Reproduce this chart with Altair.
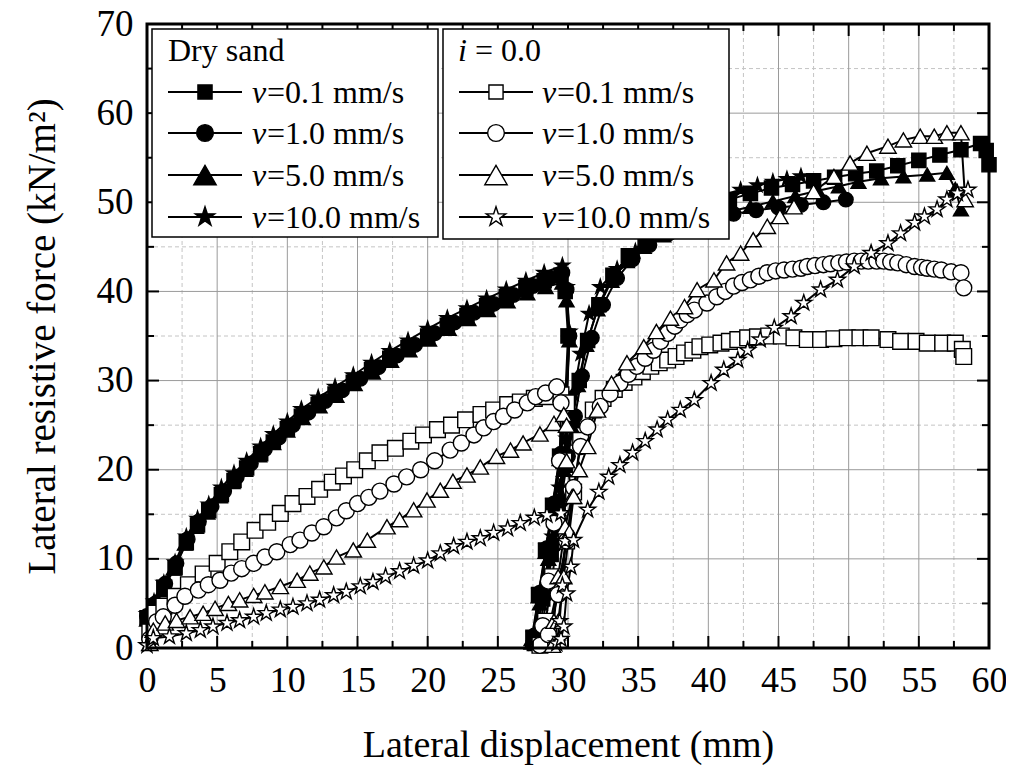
import altair as alt
import pandas as pd

# ---------------- data ----------------
# Dry sand, v = 0.1 mm/s (filled squares)
d01_load_x = [0, 0.5, 1.2, 2.0, 2.8, 3.6, 4.4, 5.3, 6.2, 7.1, 8.1, 9.0, 10.0, 11.0, 12.2, 13.4, 14.7, 16.0, 17.3, 18.6, 20.0, 21.4, 22.8, 24.2, 25.6, 27.0, 28.3, 29.5]
d01_load_y = [3.4, 4.7, 6.8, 9.0, 11.8, 13.8, 15.4, 17.2, 18.8, 20.2, 21.8, 23.1, 24.6, 26.0, 27.3, 28.5, 29.8, 31.2, 32.5, 33.7, 35.0, 36.2, 37.3, 38.4, 39.4, 40.4, 41.2, 41.8]
d01_unl_x = [29.8, 30.0, 29.8, 29.4, 28.9, 28.4, 27.9, 27.5]
d01_unl_y = [40.0, 35.0, 28.0, 21.5, 16.0, 11.0, 6.0, 1.2]
d01_rel_x = [27.6, 28.2, 28.8, 29.3, 29.8, 30.3, 30.8, 31.4, 32.2, 33.2, 34.3, 35.5, 37.0, 38.5, 40.0, 41.5, 43.0, 44.5, 46.0, 47.5, 49.0, 50.5, 52.0, 53.5, 55.0, 56.5, 58.0, 59.4, 59.8, 60.0]
d01_rel_y = [0.5, 5.5, 10.5, 15.5, 20.5, 25.5, 30.0, 34.5, 38.5, 41.8, 44.0, 45.8, 47.3, 48.4, 49.4, 50.3, 51.0, 51.6, 52.0, 52.4, 52.8, 53.2, 53.5, 54.1, 54.7, 55.3, 55.9, 56.6, 55.8, 54.2]

# Dry sand, v = 1.0 mm/s (filled circles)
d10_load_x = [0, 0.6, 1.3, 2.1, 2.9, 3.7, 4.6, 5.5, 6.4, 7.4, 8.4, 9.4, 10.4, 11.5, 12.7, 13.9, 15.2, 16.5, 17.8, 19.1, 20.5, 21.9, 23.3, 24.7, 26.1, 27.5, 28.7, 29.6]
d10_load_y = [3.6, 5.0, 7.2, 9.5, 12.2, 14.2, 15.9, 17.6, 19.2, 20.7, 22.3, 23.6, 25.0, 26.4, 27.7, 28.9, 30.2, 31.5, 32.8, 34.0, 35.3, 36.5, 37.6, 38.6, 39.6, 40.6, 41.5, 42.1]
d10_unl_x = [29.9, 30.1, 29.9, 29.5, 29.0, 28.5, 28.0, 27.6]
d10_unl_y = [40.2, 35.0, 28.0, 21.8, 16.2, 11.2, 6.2, 1.4]
d10_rel_x = [27.8, 28.4, 29.0, 29.5, 30.0, 30.5, 31.0, 31.7, 32.5, 33.5, 34.6, 35.8, 37.2, 38.7, 40.2, 41.8, 43.4, 45.0, 46.6, 48.2, 49.8]
d10_rel_y = [0.8, 6.0, 11.5, 16.5, 21.5, 26.0, 30.5, 34.8, 38.5, 41.5, 43.6, 45.2, 46.5, 47.4, 48.1, 48.7, 49.1, 49.4, 49.7, 50.0, 50.3]

# Dry sand, v = 5.0 mm/s (filled triangles)
d50_load_x = [0, 0.5, 1.1, 1.9, 2.7, 3.5, 4.3, 5.2, 6.1, 7.0, 8.0, 9.0, 10.0, 11.1, 12.3, 13.5, 14.8, 16.1, 17.4, 18.7, 20.1, 21.5, 22.9, 24.3, 25.7, 27.1, 28.4, 29.6]
d50_load_y = [3.2, 4.5, 6.5, 8.9, 11.7, 13.6, 15.2, 17.0, 18.6, 20.0, 21.6, 23.0, 24.4, 25.8, 27.1, 28.3, 29.6, 30.9, 32.2, 33.4, 34.6, 35.8, 36.9, 37.9, 38.9, 39.8, 40.5, 41.0]
d50_unl_x = [29.9, 30.1, 29.9, 29.4, 28.9, 28.4, 27.9, 27.4]
d50_unl_y = [39.0, 34.5, 27.5, 21.2, 15.8, 10.8, 5.8, 1.0]
d50_rel_x = [27.4, 28.0, 28.6, 29.2, 29.7, 30.2, 30.7, 31.3, 32.1, 33.1, 34.2, 35.4, 36.8, 38.3, 39.8, 41.4, 43.0, 44.6, 46.2, 47.8, 49.3, 50.7, 52.3, 53.9, 55.6, 57.0, 57.6, 58.0]
d50_rel_y = [0.6, 5.0, 10.0, 15.0, 20.0, 25.0, 29.5, 34.0, 38.0, 41.2, 43.4, 45.0, 46.3, 47.3, 48.2, 48.9, 49.5, 50.1, 50.7, 51.3, 51.8, 52.3, 52.7, 52.9, 53.1, 53.3, 51.5, 49.2]

# Dry sand, v = 10.0 mm/s (filled stars)
d100_load_x = [0, 0.5, 1.2, 2.0, 2.8, 3.6, 4.4, 5.3, 6.2, 7.1, 8.1, 9.0, 10.0, 11.0, 12.2, 13.4, 14.7, 16.0, 17.3, 18.6, 20.0, 21.4, 22.8, 24.2, 25.6, 27.0, 28.3, 29.6]
d100_load_y = [3.8, 5.2, 7.3, 9.6, 12.5, 14.5, 16.1, 18.0, 19.6, 21.0, 22.6, 24.0, 25.4, 26.8, 28.1, 29.3, 30.6, 32.0, 33.3, 34.5, 35.8, 37.0, 38.1, 39.2, 40.2, 41.2, 42.1, 42.9]
d100_unl_x = [29.9, 30.1, 29.9, 29.5, 29.0, 28.5, 28.0, 27.6]
d100_unl_y = [40.5, 35.5, 28.5, 22.0, 16.4, 11.4, 6.4, 1.5]
d100_rel_x = [27.6, 28.3, 28.9, 29.4, 29.9, 30.4, 30.9, 31.5, 32.3, 33.5, 34.8, 36.2, 37.8, 39.4, 41.0, 42.3, 43.5, 44.6, 45.6, 46.6]
d100_rel_y = [0.5, 6.5, 12.5, 18.0, 23.5, 28.5, 33.0, 37.5, 40.5, 42.5, 44.5, 46.5, 48.3, 49.7, 50.8, 51.4, 51.9, 52.3, 52.6, 52.9]

# i = 0.0, v = 0.1 mm/s (open squares)
o01_load_x = [0.2, 0.6, 1.2, 2.0, 2.95, 4.0, 5.0, 5.9, 6.75, 7.7, 8.6, 9.5, 10.4, 11.4, 12.3, 13.2, 14.0, 14.8, 15.7, 16.6, 17.7, 18.8, 19.7, 20.7, 21.7, 22.7, 23.8, 24.7, 25.7, 26.6, 27.6, 28.5, 29.5]
o01_load_y = [1.8, 3.9, 4.7, 5.8, 7.1, 8.3, 9.5, 10.8, 11.9, 13.2, 14.1, 15.1, 16.2, 17.0, 17.8, 18.6, 19.3, 20.0, 21.0, 21.9, 22.4, 23.2, 23.9, 24.5, 25.0, 25.6, 26.2, 26.7, 27.3, 27.6, 28.0, 28.2, 28.4]
o01_unl_x = [29.9, 29.7, 29.3, 28.9, 28.4, 28.0]
o01_unl_y = [27.5, 21.0, 14.0, 8.0, 3.0, 0.3]
o01_rel_x = [28.6, 29.3, 29.9, 30.4, 30.9, 31.8, 32.5, 33.3, 34.0, 34.7, 35.3, 35.9, 36.5, 37.1, 37.7, 38.3, 38.9, 39.4, 40.1, 40.9, 41.5, 42.1, 42.8, 43.5, 44.3, 45.2, 46.1, 47.05, 48.0, 48.95, 49.9, 50.8, 51.6, 52.8, 53.7, 54.8, 55.6, 56.7, 57.6, 58.1, 58.2]
o01_rel_y = [2.0, 7.0, 12.0, 17.5, 23.3, 26.7, 28.0, 29.0, 29.8, 30.4, 31.0, 31.6, 32.0, 32.3, 32.7, 33.1, 33.4, 33.8, 34.0, 34.2, 34.4, 34.6, 34.8, 34.9, 35.0, 35.0, 34.8, 34.6, 34.6, 34.7, 34.8, 34.8, 34.8, 34.6, 34.4, 34.4, 34.2, 34.2, 34.2, 33.5, 32.7]

# i = 0.0, v = 1.0 mm/s (open circles)
o10_load_x = [0.2, 0.69, 1.16, 2.0, 2.7, 3.66, 4.37, 5.2, 6.0, 6.75, 7.6, 8.4, 9.25, 10.2, 10.9, 11.75, 12.6, 13.5, 14.2, 15.0, 15.8, 16.6, 17.6, 18.5, 19.5, 20.5, 21.6, 22.4, 23.3, 24.0, 24.7, 25.4, 26.2, 27.1, 27.7, 28.4, 29.2]
o10_load_y = [1.0, 2.95, 3.5, 4.8, 5.8, 6.5, 7.1, 7.6, 8.4, 8.9, 9.5, 10.2, 10.8, 11.6, 12.1, 12.9, 13.6, 14.6, 15.4, 16.2, 16.9, 17.6, 18.4, 19.2, 20.0, 21.0, 22.2, 23.0, 23.9, 24.7, 25.4, 26.0, 26.7, 27.5, 28.2, 28.6, 29.3]
o10_unl_x = [29.5, 29.4, 29.0, 28.6, 28.2, 28.0]
o10_unl_y = [27.5, 21.0, 14.0, 7.5, 2.5, 0.3]
o10_rel_x = [28.6, 29.3, 29.9, 30.4, 30.9, 31.4, 32.3, 33.0, 33.7, 34.3, 34.9, 35.5, 36.1, 36.6, 37.1, 37.6, 38.0, 38.5, 39.0, 39.9, 40.6, 41.2, 41.8, 42.4, 43.0, 43.6, 44.2, 44.8, 45.4, 46.0, 46.6, 47.05, 47.6, 48.2, 48.7, 49.3, 49.85, 50.4, 50.9, 51.4, 52.0, 52.5, 53.0, 53.5, 54.1, 54.7, 55.2, 55.6, 56.1, 56.6, 57.3, 58.0, 58.2]
o10_rel_y = [1.5, 6.0, 12.0, 18.0, 22.6, 24.8, 27.1, 28.5, 29.7, 30.7, 31.6, 32.5, 33.4, 34.4, 35.3, 36.1, 36.8, 37.4, 37.9, 38.7, 39.4, 40.0, 40.6, 41.0, 41.3, 41.7, 42.1, 42.3, 42.4, 42.5, 42.6, 42.8, 42.9, 43.0, 43.1, 43.2, 43.3, 43.4, 43.4, 43.4, 43.4, 43.4, 43.3, 43.2, 43.0, 42.8, 42.7, 42.6, 42.5, 42.4, 42.2, 42.1, 40.4]

# i = 0.0, v = 5.0 mm/s (open triangles)
o50_load_x = [0.2, 0.45, 1.3, 2.1, 3.07, 4.0, 4.85, 5.8, 6.6, 7.6, 8.4, 9.5, 10.7, 11.6, 12.6, 13.5, 14.7, 15.7, 17.1, 18.0, 19.0, 19.95, 20.9, 21.8, 22.8, 23.75, 24.9, 25.9, 26.8, 28.0, 29.0, 29.7]
o50_load_y = [0.5, 2.0, 2.8, 3.1, 3.5, 3.9, 4.45, 5.0, 5.4, 5.9, 6.3, 6.9, 7.6, 8.4, 9.1, 10.2, 11.0, 12.1, 13.6, 14.4, 15.5, 16.6, 17.7, 18.7, 19.4, 20.3, 21.5, 22.2, 23.0, 24.0, 25.2, 26.2]
o50_unl_x = [29.9, 29.9, 30.3, 29.8, 29.3, 29.0, 28.9]
o50_unl_y = [25.0, 21.0, 17.0, 13.6, 8.0, 3.0, 0.3]
o50_rel_x = [29.3, 29.7, 30.1, 30.4, 30.8, 31.4, 32.1, 33.1, 34.2, 35.4, 36.3, 37.3, 38.3, 39.2, 40.4, 41.3, 42.3, 43.2, 44.2, 45.1, 46.1, 47.5, 48.95, 50.1, 51.3, 52.8, 53.9, 55.1, 56.1, 57.0, 58.0, 58.3]
o50_rel_y = [3.0, 8.0, 13.0, 17.0, 20.0, 22.6, 26.7, 29.7, 32.0, 33.8, 35.5, 37.0, 38.3, 40.2, 41.3, 43.2, 44.3, 45.8, 47.3, 48.4, 49.5, 51.2, 52.9, 54.4, 55.5, 56.3, 57.0, 57.4, 57.4, 57.8, 57.8, 50.3]

# i = 0.0, v = 10.0 mm/s (open stars)
o100_load_x = [0, 0.45, 1.6, 2.8, 3.8, 4.7, 5.7, 6.6, 7.6, 8.5, 9.5, 10.4, 11.4, 12.3, 13.3, 14.2, 15.2, 16.1, 17.0, 18.0, 19.0, 20.0, 20.9, 21.85, 22.8, 23.75, 24.7, 25.7, 26.6, 27.6, 28.5, 29.5]
o100_load_y = [0.3, 1.1, 1.3, 1.65, 2.0, 2.4, 2.8, 3.1, 3.5, 3.9, 4.3, 4.6, 5.0, 5.4, 5.9, 6.3, 6.9, 7.4, 8.0, 8.6, 9.2, 9.8, 10.6, 11.4, 11.9, 12.3, 12.9, 13.4, 14.0, 14.6, 14.9, 15.1]
o100_unl_x = [29.8, 29.6, 29.4, 29.2]
o100_unl_y = [12.0, 7.0, 3.0, 0.5]
o100_rel_x = [29.5, 29.7, 29.9, 30.2, 30.4, 31.4, 32.2, 32.9, 33.7, 34.6, 35.5, 36.35, 37.1, 38.0, 39.0, 40.2, 41.1, 42.1, 42.8, 43.7, 44.7, 45.9, 46.8, 48.0, 49.2, 50.4, 51.6, 52.8, 53.7, 54.7, 55.4, 56.3, 57.0, 57.75, 58.5]
o100_rel_y = [1.0, 2.4, 6.1, 9.1, 12.1, 15.5, 17.5, 19.2, 20.5, 21.9, 23.2, 24.5, 25.6, 26.7, 27.8, 29.7, 31.2, 32.3, 33.4, 34.6, 35.9, 37.2, 38.7, 40.2, 41.3, 42.8, 44.3, 45.4, 46.5, 47.7, 48.4, 49.2, 50.3, 51.0, 51.4]

dry_keys = ["d01", "d10", "d50", "d100"]
open_keys = ["o01", "o10", "o50", "o100"]
speed_labels = ["=0.1 mm/s", "=1.0 mm/s", "=5.0 mm/s", "=10.0 mm/s"]
group_titles = ["Dry sand", "i = 0.0"]

x_major = [0, 5, 10, 15, 20, 25, 30, 35, 40, 45, 50, 55, 60]
x_minor = [2.5, 7.5, 12.5, 17.5, 22.5, 27.5, 32.5, 37.5, 42.5, 47.5, 52.5, 57.5]
y_major = [0, 10, 20, 30, 40, 50, 60, 70]
y_minor = [5, 15, 25, 35, 45, 55, 65]

g = globals()
rows = []
for key in dry_keys + open_keys:
    xs = g[key + "_load_x"] + g[key + "_unl_x"] + g[key + "_rel_x"]
    ys = g[key + "_load_y"] + g[key + "_unl_y"] + g[key + "_rel_y"]
    for i, (a, b) in enumerate(zip(xs, ys)):
        rows.append({"series": key, "grp": key[0], "idx": i, "x": a, "y": b})
df = pd.DataFrame(rows)

# ---------------- styling ----------------
W, H = 842, 624
FONT = "Liberation Serif"
STAR = ("M0,-1L0.2245,-0.309L0.9511,-0.309L0.3633,0.118L0.5878,0.809L0,0.382"
        "L-0.5878,0.809L-0.3633,0.118L-0.9511,-0.309L-0.2245,-0.309Z")
all_keys = dry_keys + open_keys
shapes = ["square", "circle", "triangle-up", STAR] * 2
fills = ["black"] * 4 + ["white"] * 4
sizes = [200, 280, 500, 420] * 2

xs_scale = alt.Scale(domain=[0, 60], nice=False, zero=False)
ys_scale = alt.Scale(domain=[0, 70], nice=False, zero=False)

AX = alt.Axis(
    values=x_major, ticks=False, domain=False, grid=False, labelFlush=False,
    labelFont=FONT, labelFontSize=36, labelColor="black", labelPadding=15,
    title="Lateral displacement (mm)", titleFont=FONT, titleFontSize=38,
    titleFontWeight="normal", titleColor="black", titlePadding=28)
AY = alt.Axis(
    values=y_major, ticks=False, domain=False, grid=False, labelFlush=False,
    labelFont=FONT, labelFontSize=37, labelColor="black", labelPadding=14,
    title="Lateral resistive force (kN/m²)", titleFont=FONT, titleFontSize=39,
    titleFontWeight="normal", titleColor="black", titlePadding=34)

def XE(field):
    return alt.X(field, scale=xs_scale, axis=AX)

def YE(field):
    return alt.Y(field, scale=ys_scale, axis=AY)

def vals(lst):
    return pd.DataFrame({"v": lst})

layers = []
# grid
layers.append(alt.Chart(vals(x_minor)).mark_rule(color="#c4c4c4", strokeWidth=1, strokeDash=[4, 3]).encode(
    x=XE("v:Q"), y=alt.value(0), y2=alt.value(H)))
layers.append(alt.Chart(vals(y_minor)).mark_rule(color="#c4c4c4", strokeWidth=1, strokeDash=[4, 3]).encode(
    y=YE("v:Q"), x=alt.value(0), x2=alt.value(W)))
layers.append(alt.Chart(vals(x_major[1:-1])).mark_rule(color="#9a9a9a", strokeWidth=1).encode(
    x=XE("v:Q"), y=alt.value(0), y2=alt.value(H)))
layers.append(alt.Chart(vals(y_major[1:-1])).mark_rule(color="#9a9a9a", strokeWidth=1).encode(
    y=YE("v:Q"), x=alt.value(0), x2=alt.value(W)))

shape_enc = alt.Shape("series:N", scale=alt.Scale(domain=all_keys, range=shapes), legend=None)
fill_enc = alt.Fill("series:N", scale=alt.Scale(domain=all_keys, range=fills), legend=None)
size_enc = alt.Size("series:O", scale=alt.Scale(domain=all_keys, range=sizes), legend=None)

for grp in ["d", "o"]:
    base = alt.Chart(df).transform_filter(alt.datum.grp == grp)
    layers.append(base.mark_line(color="black", strokeWidth=2).encode(
        x=XE("x:Q"), y=YE("y:Q"), detail="series:N", order="idx:Q"))
    layers.append(base.mark_point(filled=True, stroke="black", strokeWidth=1.4, opacity=1).encode(
        x=XE("x:Q"), y=YE("y:Q"), shape=shape_enc, fill=fill_enc, size=size_enc))

# inward ticks on all four sides
for lst, L in [(x_major, 12), (x_minor, 7)]:
    for y0, y1 in [(H, H - L), (0, L)]:
        layers.append(alt.Chart(vals(lst)).mark_rule(color="black", strokeWidth=2).encode(
            x=XE("v:Q"), y=alt.value(y0), y2=alt.value(y1)))
for lst, L in [(y_major, 12), (y_minor, 7)]:
    for x0, x1 in [(0, L), (W, W - L)]:
        layers.append(alt.Chart(vals(lst)).mark_rule(color="black", strokeWidth=2).encode(
            y=YE("v:Q"), x=alt.value(x0), x2=alt.value(x1)))

one = pd.DataFrame({"k": [0]})
# frame
layers.append(alt.Chart(one).mark_rect(fill=None, filled=False, stroke="black", strokeWidth=3).encode(
    x=alt.value(0), x2=alt.value(W), y=alt.value(0), y2=alt.value(H)))

# legend (two boxes)
row_y = [68, 109, 151, 193]
boxes = [
    {"x0": 5, "x1": 291, "y1": 213, "keys": dry_keys, "lx0": 21, "lx1": 95, "mx": 58, "tx": 105},
    {"x0": 296, "x1": 582, "y1": 215, "keys": open_keys, "lx0": 312, "lx1": 386, "mx": 349, "tx": 395},
]
for b_i, b in enumerate(boxes):
    layers.append(alt.Chart(one).mark_rect(fill="white", stroke="black", strokeWidth=1.5).encode(
        x=alt.value(b["x0"]), x2=alt.value(b["x1"]), y=alt.value(5), y2=alt.value(b["y1"])))
    if b_i == 0:
        layers.append(alt.Chart(one).mark_text(text=group_titles[0], font=FONT, fontSize=32, align="left",
                                               baseline="alphabetic", color="black").encode(
            x=alt.value(b["lx0"]), y=alt.value(37)))
    else:
        layers.append(alt.Chart(one).mark_text(text="i", font=FONT, fontSize=32, fontStyle="italic", align="left",
                                               baseline="alphabetic", color="black").encode(
            x=alt.value(b["lx0"] - 1), y=alt.value(37)))
        layers.append(alt.Chart(one).mark_text(text="= 0.0", font=FONT, fontSize=32, align="left",
                                               baseline="alphabetic", color="black").encode(
            x=alt.value(b["lx0"] + 16), y=alt.value(37)))
    for k_i, key in enumerate(b["keys"]):
        ry = row_y[k_i]
        j = all_keys.index(key)
        layers.append(alt.Chart(one).mark_rule(color="black", strokeWidth=2).encode(
            x=alt.value(b["lx0"]), x2=alt.value(b["lx1"]), y=alt.value(ry)))
        layers.append(alt.Chart(one).mark_point(shape=shapes[j], filled=True, fill=fills[j], stroke="black",
                                                strokeWidth=1.4, size=sizes[j], opacity=1).encode(
            x=alt.value(b["mx"]), y=alt.value(ry)))
        layers.append(alt.Chart(one).mark_text(text="v", font=FONT, fontSize=32, fontStyle="italic", align="left",
                                               baseline="alphabetic", color="black").encode(
            x=alt.value(b["tx"]), y=alt.value(ry + 11)))
        layers.append(alt.Chart(one).mark_text(text=speed_labels[k_i], font=FONT, fontSize=32, align="left",
                                               baseline="alphabetic", color="black").encode(
            x=alt.value(b["tx"] + 15), y=alt.value(ry + 11)))

chart = alt.layer(*layers).properties(
    width=W, height=H,
    autosize=alt.AutoSizeParams(type="none"),
    padding={"left": 139, "top": 16, "right": 17, "bottom": 117},
).configure_view(stroke=None).configure(background="white")

chart.save("out.html", embed_options={"renderer": "svg", "actions": False})
